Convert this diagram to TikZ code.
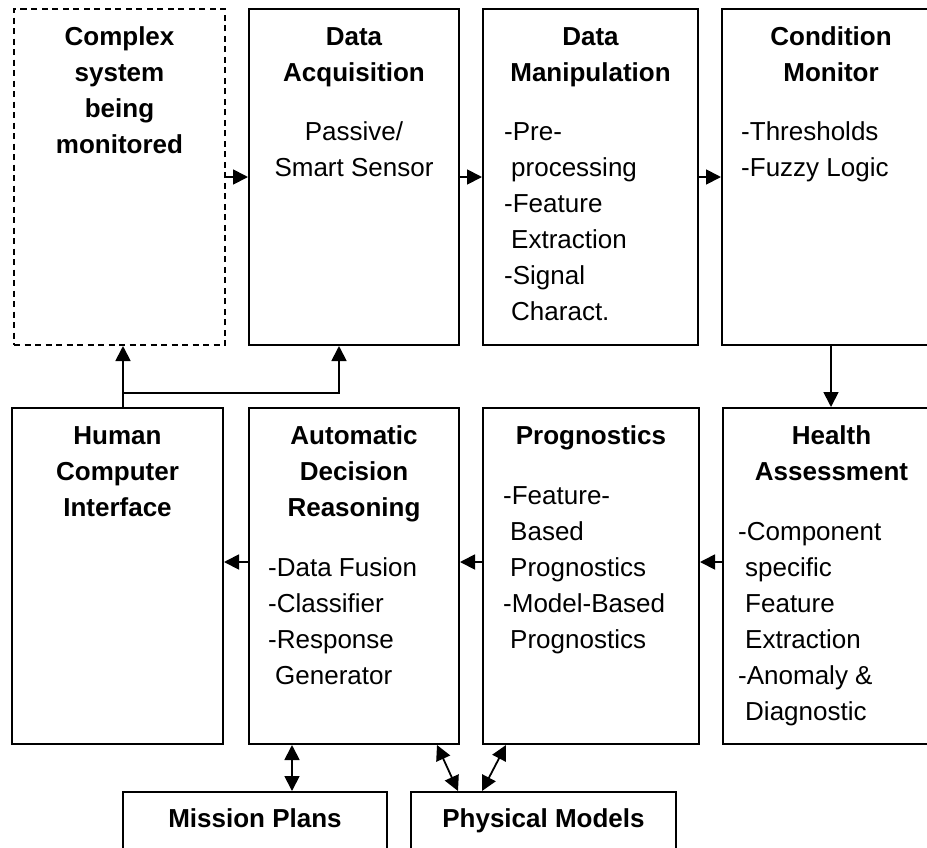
\documentclass[tikz,border=0pt]{standalone}
\usepackage{fontspec}
\setmainfont{Liberation Sans}
\usetikzlibrary{arrows.meta,calc}
\newcommand{\mlleft}[1]{\begin{tabular}[t]{@{}l@{}}#1\end{tabular}}
\newcommand{\mlcent}[1]{\begin{tabular}[t]{@{}c@{}}#1\end{tabular}}
\newcommand{\indt}{\hspace*{7pt}}
\begin{document}
\begin{tikzpicture}[x=1pt,y=-1pt,
  box/.style={draw, line width=2pt, rectangle, inner sep=0pt},
  dbox/.style={box, dash pattern=on 6pt off 4.5pt},
  ttl/.style={inner sep=0pt, anchor=base, font=\fontsize{26}{36}\selectfont\bfseries},
  bodyl/.style={inner sep=0pt, anchor=base west, font=\fontsize{26}{36}\selectfont},
  bodyc/.style={inner sep=0pt, anchor=base, font=\fontsize{26}{36}\selectfont},
  tip/.tip={Triangle[length=15pt,width=15pt]},
  arr/.style={line width=1.8pt, -tip},
  darr/.style={line width=1.8pt, tip-tip}]
\useasboundingbox (0,0) rectangle (927,847);
\clip (0,0) rectangle (927,847);
\fill[white] (0,0) rectangle (927,847);
% top row
\node[dbox, minimum width=211pt, minimum height=336pt] (b1) at (119.5,177) {};
\node[box, minimum width=210pt, minimum height=336pt] (b2) at (354,177) {};
\node[box, minimum width=215pt, minimum height=336pt] (b3) at (590.5,177) {};
\node[box, minimum width=218pt, minimum height=336pt] (b4) at (831,177) {};
% bottom row
\node[box, minimum width=211pt, minimum height=336pt] (b5) at (117.5,576) {};
\node[box, minimum width=210pt, minimum height=336pt] (b6) at (354,576) {};
\node[box, minimum width=216pt, minimum height=336pt] (b7) at (591,576) {};
\node[box, minimum width=217pt, minimum height=336pt] (b8) at (831.5,576) {};
% lowest boxes
\node[box, minimum width=264pt, minimum height=88pt] (mp) at (255,836) {};
\node[box, minimum width=265pt, minimum height=88pt] (pm) at (543.5,836) {};
% titles
\node[ttl] (t1) at (119.5,45) {\mlcent{Complex\\system\\being\\monitored}};
\node[ttl] (t2) at (354,45) {\mlcent{Data\\Acquisition}};
\node[ttl] (t3) at (590.5,45) {\mlcent{Data\\Manipulation}};
\node[ttl] (t4) at (831,45) {\mlcent{Condition\\Monitor}};
\node[ttl] (t5) at (117.5,444) {\mlcent{Human\\Computer\\Interface}};
\node[ttl] (t6) at (354,444) {\mlcent{Automatic\\Decision\\Reasoning}};
\node[ttl] (t7) at (591,444) {\mlcent{Prognostics}};
\node[ttl] (t8) at (831.5,444) {\mlcent{Health\\Assessment}};
\node[ttl] (t9) at (255,827) {Mission Plans};
\node[ttl] (t10) at (543.5,827) {Physical Models};
% bodies
\node[bodyc] (x2) at (354,140) {\mlcent{Passive/\\Smart Sensor}};
\node[bodyl] (x3) at (504,140) {\mlleft{-Pre-\\\indt processing\\-Feature\\\indt Extraction\\-Signal\\\indt Charact.}};
\node[bodyl] (x4) at (741,140) {\mlleft{-Thresholds\\-Fuzzy Logic}};
\node[bodyl] (x6) at (268,576) {\mlleft{-Data Fusion\\-Classifier\\-Response\\\indt Generator}};
\node[bodyl] (x7) at (503,504) {\mlleft{-Feature-\\\indt Based\\\indt Prognostics\\-Model-Based\\\indt Prognostics}};
\node[bodyl] (x8) at (738,540) {\mlleft{-Component\\\indt specific\\\indt Feature\\\indt Extraction\\-Anomaly \&\\\indt Diagnostic}};
% connectors
\draw[arr] (b1.east) -- (b2.west);
\draw[arr] (b2.east) -- (b3.west);
\draw[arr] (b3.east) -- (b4.west);
\draw[arr] (b4.south) -- (b4.south |- b8.north);
\draw[arr] ([yshift=14pt]b8.west) -- ([yshift=14pt]b7.east);
\draw[arr] ([yshift=14pt]b7.west) -- ([yshift=14pt]b6.east);
\draw[arr] ([yshift=14pt]b6.west) -- ([yshift=14pt]b5.east);
\coordinate (j) at (123,393);
\coordinate (k) at (339,393);
\draw[arr] (j |- b5.north) -- (j |- b1.south);
\draw[arr] (j) -- (k) -- (k |- b2.south);
\coordinate (m) at (292,760);
\draw[darr] (m |- b6.south) -- (m |- mp.north);
\draw[darr] ($(b6.south east)+(-23,0)$) -- ($(pm.north west)+(48,0)$);
\draw[darr] ($(b7.south west)+(24,0)$) -- ($(pm.north west)+(72,0)$);
\end{tikzpicture}
\end{document}
